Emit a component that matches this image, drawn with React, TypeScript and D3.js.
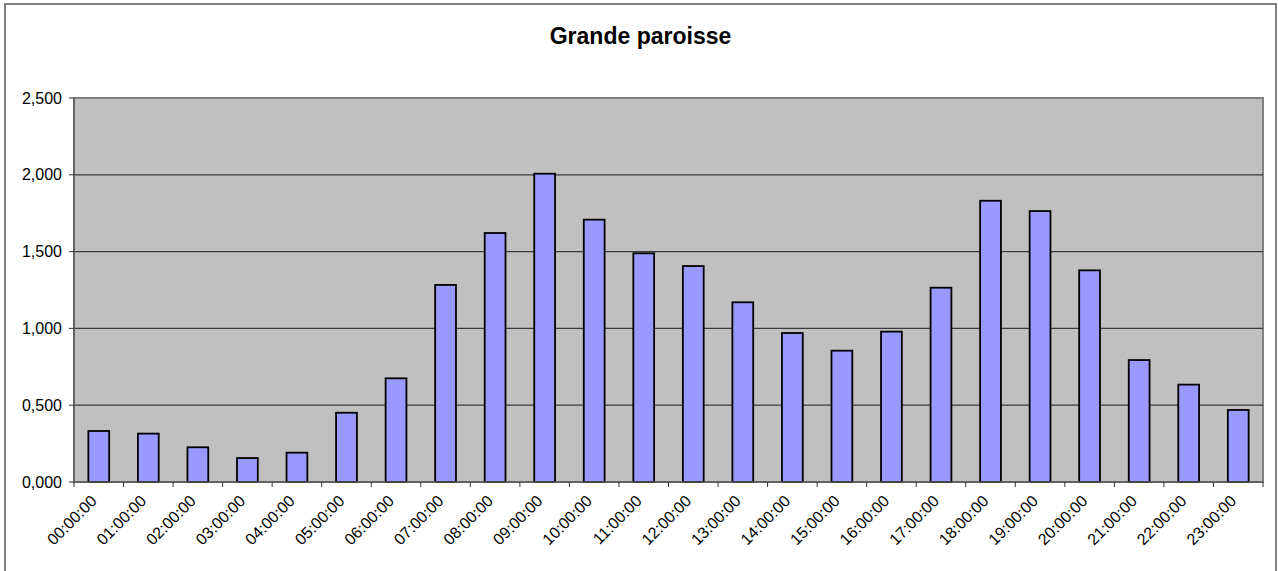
import React from "react";
import * as d3 from "d3";

const categories = ["00:00:00","01:00:00","02:00:00","03:00:00","04:00:00","05:00:00","06:00:00","07:00:00","08:00:00","09:00:00","10:00:00","11:00:00","12:00:00","13:00:00","14:00:00","15:00:00","16:00:00","17:00:00","18:00:00","19:00:00","20:00:00","21:00:00","22:00:00","23:00:00"];
const values = [332, 315, 226, 156, 191, 451, 675, 1283, 1621, 2007, 1708, 1489, 1406, 1170, 970, 855, 979, 1265, 1831, 1764, 1378, 794, 634, 469];
const yTicks = [0, 500, 1000, 1500, 2000, 2500];
const yTickLabels = ["0,000", "0,500", "1,000", "1,500", "2,000", "2,500"];
const title = "Grande paroisse";

const W = 1278, H = 571;
const plot = { left: 74, right: 1263, top: 98, bottom: 482 };

export default function App() {
  const x = d3.scaleBand<string>().domain(categories).range([plot.left, plot.right]).paddingInner(0.58).paddingOuter(0.29);
  const xb = d3.scaleBand<string>().domain(categories).range([plot.left, plot.right]);
  const y = d3.scaleLinear().domain([0, 2500]).range([plot.bottom, plot.top]);
  const font = "'Liberation Sans', Arial, sans-serif";
  return (
    <svg width={W} height={H} style={{ position: "absolute", left: 0, top: 0, background: "#fff" }} fontFamily={font}>
      <rect x={5} y={4} width={1271} height={H + 10} fill="#fff" stroke="#808080" strokeWidth={2} />
      <text x={640.5} y={44} textAnchor="middle" fontSize={23} fontWeight="bold" fill="#000">{title}</text>
      <rect x={plot.left} y={plot.top} width={plot.right - plot.left} height={plot.bottom - plot.top} fill="#C0C0C0" stroke="#808080" strokeWidth={2} />
      {yTicks.slice(1, -1).map((t) => (
        <line key={t} x1={plot.left} x2={plot.right} y1={y(t)} y2={y(t)} stroke="#3a3a3a" strokeWidth={1.2} />
      ))}
      {categories.map((c, i) => (
        <rect key={c} x={x(c)} y={y(values[i])} width={x.bandwidth()} height={plot.bottom - y(values[i])} fill="#9999FF" stroke="#000" strokeWidth={1.8} />
      ))}
      <line x1={plot.left} x2={plot.left} y1={plot.top} y2={plot.bottom} stroke="#5a5a5a" strokeWidth={1.5} />
      <line x1={plot.left} x2={plot.right} y1={plot.bottom} y2={plot.bottom} stroke="#5a5a5a" strokeWidth={1.5} />
      {yTicks.map((t, i) => (
        <g key={t}>
          <line x1={plot.left - 5} x2={plot.left} y1={y(t)} y2={y(t)} stroke="#333" strokeWidth={1} />
          <text x={plot.left - 12} y={y(t)} dy="0.35em" textAnchor="end" fontSize={16} fill="#000">{yTickLabels[i]}</text>
        </g>
      ))}
      {categories.map((c) => (
        <line key={"t" + c} x1={xb(c)!} x2={xb(c)!} y1={plot.bottom} y2={plot.bottom + 5} stroke="#333" strokeWidth={1} />
      ))}
      <line x1={plot.right} x2={plot.right} y1={plot.bottom} y2={plot.bottom + 5} stroke="#333" strokeWidth={1} />
      {categories.map((c) => {
        const cx = xb(c)! + xb.bandwidth() / 2 - 5;
        const cy = plot.bottom + 16;
        return (
          <text key={"l" + c} x={cx} y={cy} textAnchor="end" fontSize={16} fill="#000" transform={`rotate(-45, ${cx}, ${cy})`} dy="0.35em">{c}</text>
        );
      })}
    </svg>
  );
}
